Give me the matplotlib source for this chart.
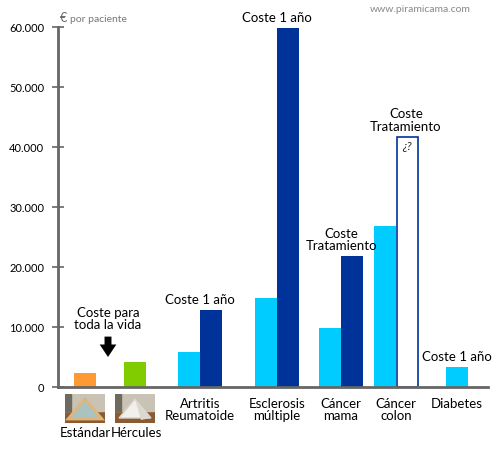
import matplotlib
matplotlib.use("Agg")
import matplotlib.pyplot as plt
from matplotlib.patches import Polygon, Rectangle
from matplotlib.ticker import FuncFormatter

# values, € per patient
pyramids = ["Estándar", "Hércules"]
pyramid_cost = [2300, 4200]

diseases = ["Artritis\nReumatoide", "Esclerosis\nmúltiple", "Cáncer\nmama", "Cáncer\ncolon", "Diabetes"]
cost_light = [5800, 14800, 9800, 26800, 3300]
cost_dark = [12800, 59800, 21800, 41700, None]

notes = ["Coste 1 año", "Coste 1 año", "Coste\nTratamiento", "Coste\nTratamiento", "Coste 1 año"]
yticks = [0, 10000, 20000, 30000, 40000, 50000, 60000]

W, H = 500, 450
fig = plt.figure(figsize=(5, 4.5), dpi=100)
plt.rcParams['font.family'] = ['Lato', 'DejaVu Sans']

# axes placed in pixels: origin at (58, 387), top of axis at y=27
ax = fig.add_axes([58 / W, (H - 387) / H, 430 / W, 360 / H])
ax.set_xlim(0, 430)
ax.set_ylim(0, 60000)

orange = "#ff9933"
green = "#80cc00"
light = "#00ccff"
dark = "#003399"
bw = 22

pyr_x = [27, 77]
dis_x = [142, 219, 283, 338, 399]

ax.bar(pyr_x, pyramid_cost, width=bw, color=[orange, green], zorder=2)

for i, x in enumerate(dis_x):
    if cost_dark[i] is None:
        ax.bar(x, cost_light[i], width=bw, color=light, zorder=2)
        top = cost_light[i]
        cx = x
    else:
        ax.bar(x - bw / 2, cost_light[i], width=bw, color=light, zorder=2)
        if i == 3:
            ax.bar(x + bw / 2, cost_dark[i], width=bw - 1, color="white",
                   edgecolor=dark, linewidth=1.2, zorder=2)
            ax.text(x + bw / 2, cost_dark[i] - 700, "¿?", ha="center", va="top",
                    fontsize=8.5, fontstyle="italic", color="#222222")
        else:
            ax.bar(x + bw / 2, cost_dark[i], width=bw, color=dark, zorder=2)
        top = max(cost_light[i], cost_dark[i])
        cx = x
        if i == 3:
            cx = x + bw / 2 - 1
    ax.annotate(notes[i], (cx, top), xytext=(0, 3), textcoords="offset points",
                ha="center", va="bottom", fontsize=9.5, linespacing=1.05,
                annotation_clip=False)
    ax.text(x, -1800, diseases[i], ha="center", va="top", fontsize=9.5,
            linespacing=1.05, clip_on=False)

# lifetime cost note with arrow
ax.text(50, 9300, "Coste para\ntoda la vida", ha="center", va="bottom",
        fontsize=9.5, linespacing=1.05)
ax.annotate("", xy=(50, 5000), xytext=(50, 8400),
            arrowprops=dict(arrowstyle="simple,head_width=1.2,head_length=0.9,tail_width=0.5",
                            color="black", lw=0, shrinkA=0, shrinkB=0))

# axis styling
for s in ["top", "right"]:
    ax.spines[s].set_visible(False)
for s in ["left", "bottom"]:
    ax.spines[s].set_color("#666666")
    ax.spines[s].set_linewidth(2)
ax.set_xticks([])
ax.set_yticks(yticks)
ax.yaxis.set_major_formatter(FuncFormatter(lambda v, p: "{:,.0f}".format(v).replace(",", ".")))
ax.tick_params(axis="y", direction="inout", length=8, width=1.2, color="#666666",
               labelsize=8, pad=6)

fig.text(60 / W, 1 - 18 / H, "€", fontsize=9, color="#666666", va="center")
fig.text(70 / W, 1 - 19 / H, "por paciente", fontsize=7.5, color="#777777", va="center")
fig.text(420 / W, 1 - 10 / H, "www.piramicama.com", fontsize=7.5, color="#888888",
         ha="center", va="center")


# small pyramid pictures under the first two bars
def thumb(x0, frame_only):
    tax = fig.add_axes([x0 / W, (H - 423) / H, 40 / W, 29 / H])
    tax.set_xlim(0, 40)
    tax.set_ylim(0, 29)
    tax.axis("off")
    tax.add_patch(Rectangle((0, 0), 40, 29, color="#8a5a30"))
    tax.add_patch(Rectangle((0, 12), 40, 17, color="#c9c3b6"))
    tax.add_patch(Rectangle((0, 12), 6, 17, color="#6e6a60"))
    if frame_only:
        tax.add_patch(Polygon([[3, 4], [37, 4], [20, 24]], closed=True,
                              facecolor="#a9c4c0", edgecolor="#e0b47a", lw=2))
    else:
        tax.add_patch(Polygon([[4, 5], [36, 5], [20, 24]], closed=True,
                              facecolor="#f2f0ea", edgecolor="#d8d4cc", lw=1))
        tax.add_patch(Polygon([[20, 24], [36, 5], [26, 3]], closed=True,
                              facecolor="#dcd8d0", lw=0))


thumb(65, True)
thumb(115, False)
fig.text(85 / W, 1 - 433 / H, pyramids[0], ha="center", va="center", fontsize=9.5)
fig.text(136 / W, 1 - 433 / H, pyramids[1], ha="center", va="center", fontsize=9.5)

fig.savefig("out.png", dpi=100)
